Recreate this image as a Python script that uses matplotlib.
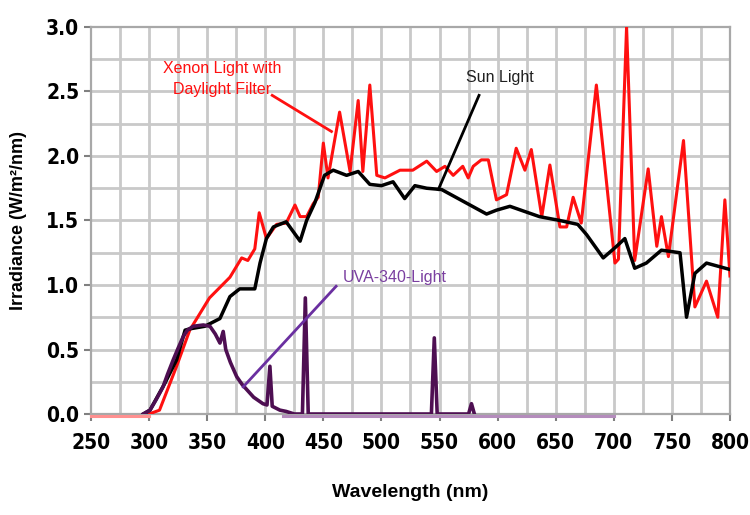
import numpy as np
import matplotlib.pyplot as plt
from matplotlib import font_manager as fm
from matplotlib.ticker import MultipleLocator

# Sun light (black)
sun_nm = [295, 300.8, 313.7, 323.7, 331, 335, 348, 361, 369.6, 378, 391, 395.5,
          401, 407, 418, 430, 435.6, 442.8, 451, 458.5, 470, 480, 490, 500, 510,
          520, 528.8, 539, 551.8, 590.5, 599, 610.6, 636, 653.6, 669, 676.6,
          690.9, 702.4, 709.5, 718, 728, 741, 757, 762.6, 769.8, 779.8, 800]
sun_val = [0.0, 0.03, 0.24, 0.42, 0.65, 0.66, 0.68, 0.74, 0.91, 0.97, 0.97, 1.17,
           1.36, 1.45, 1.49, 1.34, 1.50, 1.64, 1.85, 1.89, 1.85, 1.88, 1.78, 1.77, 1.80,
           1.67, 1.77, 1.75, 1.74, 1.55, 1.58, 1.61, 1.53, 1.50, 1.47, 1.39,
           1.21, 1.30, 1.36, 1.13, 1.17, 1.27, 1.25, 0.75, 1.09, 1.17, 1.12]

# Xenon light with daylight filter (red)
xe_nm = [250, 300, 309, 323.7, 335, 352, 369.6, 379.7, 385, 391, 394.8, 401, 409.8,
         418, 425.6, 430, 435.6, 441.3, 445.6, 450, 454, 464, 473, 480, 484, 490,
         496, 503, 516, 527, 539, 547.5, 554.7, 561.8, 570, 574.7, 579, 586, 592,
         599, 607.7, 616, 623.5, 629, 638, 645, 653.6, 659.4, 665, 672, 685, 701,
         704, 711, 718, 729.6, 737, 741, 747, 760, 769.8, 779.8, 789.5, 795.6, 800]
xe_val = [0.0, 0.0, 0.03, 0.37, 0.65, 0.90, 1.06, 1.21, 1.19, 1.28, 1.56, 1.36, 1.47,
          1.48, 1.62, 1.53, 1.53, 1.63, 1.68, 2.10, 1.83, 2.34, 1.88, 2.43, 1.88, 2.55,
          1.85, 1.83, 1.89, 1.89, 1.96, 1.88, 1.92, 1.85, 1.92, 1.83, 1.92, 1.97, 1.97,
          1.66, 1.70, 2.06, 1.89, 2.05, 1.53, 1.93, 1.45, 1.45, 1.68, 1.48, 2.55, 1.17,
          1.20, 3.0, 1.19, 1.90, 1.30, 1.53, 1.22, 2.12, 0.83, 1.03, 0.75, 1.66, 1.07]

# UVA-340 lamp (purple)
uva_nm = [295, 300.8, 306, 312, 316, 320.8, 325, 329.4, 333, 338, 346.7, 352.4,
          357, 361, 363.8, 366, 370, 375.4, 380, 384, 390, 398, 401.5, 404, 406,
          412.6, 418, 425, 432, 434.5, 437, 543, 545.5, 548, 575, 577.5, 580]
uva_val = [0.0, 0.03, 0.11, 0.21, 0.31, 0.42, 0.51, 0.60, 0.65, 0.68, 0.69, 0.68,
           0.62, 0.55, 0.64, 0.50, 0.40, 0.29, 0.23, 0.19, 0.13, 0.08, 0.07, 0.37, 0.06,
           0.03, 0.02, 0.0, 0.0, 0.90, 0.0, 0.0, 0.59, 0.0, 0.0, 0.08, 0.0]
uva_tail_nm = [415, 700]
uva_tail_val = [0.0, 0.0]

# pick a narrow bold face for the tick labels if there is one
narrow = ['Liberation Sans', 'DejaVu Sans']
narrow_stretch = 'normal'
for fam, st in [('Liberation Sans Narrow', 'normal'), ('DejaVu Sans', 'condensed')]:
    try:
        path = fm.findfont(fm.FontProperties(family=fam, stretch=st, weight='bold'),
                           fallback_to_default=False)
    except Exception:
        continue
    if 'Narrow' in path or 'Condensed' in path:
        narrow = [fam, 'DejaVu Sans']
        narrow_stretch = st
        break

ann = ['Liberation Sans', 'DejaVu Sans']

fig = plt.figure(figsize=(7.5, 5.15), dpi=100)
ax = fig.add_axes([0.1213, 0.1961, 0.852, 0.7515])

red = '#ff1010'
purple = '#4e0f52'
gridc = '#c9c9c9'

# grid drawn by hand, 25 nm by 0.25
ax.vlines(np.arange(275, 800, 25), 0, 3.0, colors=gridc, lw=2.0, zorder=1)
ax.hlines(np.arange(0.25, 3.0, 0.25), 250, 800, colors=gridc, lw=2.0, zorder=1)

ax.plot(xe_nm[:2], [v - 0.012 for v in xe_val[:2]], color='#ff9090', lw=2.2,
        zorder=3, clip_on=False)
ax.plot(xe_nm[1:], xe_val[1:], color=red, lw=2.2, zorder=3)
ax.plot(sun_nm, sun_val, color='black', lw=2.5, zorder=4)
ax.plot(uva_tail_nm, [v - 0.012 for v in uva_tail_val], color='#b48cbc', lw=2.2,
        zorder=4, clip_on=False)
ax.plot(uva_nm, uva_val, color=purple, lw=2.6, zorder=5)

ax.set_xlim(250, 800)
ax.set_ylim(0, 3.0)
ax.xaxis.set_major_locator(MultipleLocator(50))
ax.yaxis.set_major_locator(MultipleLocator(0.5))
for s in ax.spines.values():
    s.set_color('#a8a8a8')
    s.set_linewidth(1.6)
ax.tick_params(axis='both', which='major', colors='#808080', width=1.5, length=5,
               labelcolor='black', labelsize=15)
ax.tick_params(axis='x', which='major', pad=9)
ax.yaxis.set_major_formatter(lambda v, p: f'{v:.1f}')
for lab in ax.get_xticklabels() + ax.get_yticklabels():
    lab.set_fontweight('bold')
    lab.set_family(narrow)
    lab.set_fontstretch(narrow_stretch)

ax.set_xlabel('Wavelength (nm)', fontsize=14, fontweight='bold', labelpad=22,
              family=ann)
ax.set_ylabel('Irradiance (W/m²/nm)', fontsize=13, fontweight='bold', labelpad=14,
              family=ann)

ax.text(362.7, 2.60, 'Xenon Light with\nDaylight Filter', color=red, fontsize=11.5,
        ha='center', va='center', family=ann, linespacing=1.5)
ax.plot([406, 457], [2.47, 2.19], color=red, lw=2, zorder=6)
ax.text(602, 2.61, 'Sun Light', color='#202020', fontsize=11.5, ha='center',
        va='center', family=ann)
ax.plot([584, 549], [2.47, 1.74], color='black', lw=2, zorder=6)
ax.text(511.6, 1.06, 'UVA-340-Light', color='#7a3fa0', fontsize=11.5, ha='center',
        va='center', family=ann)
ax.plot([461, 381], [0.99, 0.21], color='#6a2fa0', lw=2, zorder=6)

fig.savefig('out.png', dpi=100)
